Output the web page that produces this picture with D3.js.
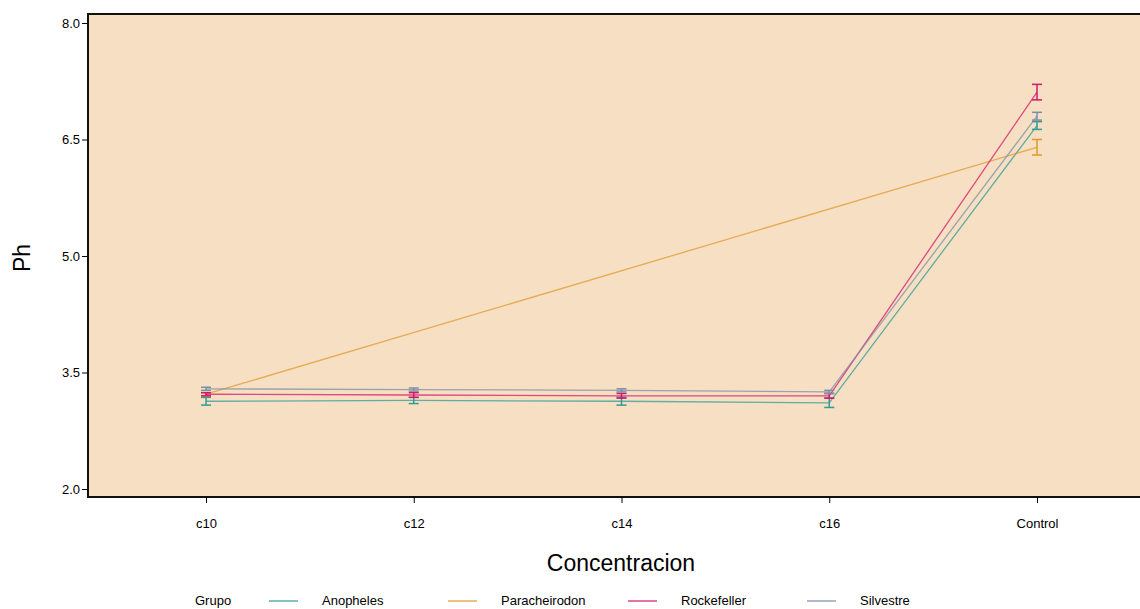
<!DOCTYPE html>
<html>
<head>
<meta charset="utf-8">
<script src="https://cdn.jsdelivr.net/npm/d3@7"></script>
<style>
  body { margin: 0; background: #fff; }
  text { font-family: "Liberation Sans", Arial, sans-serif; fill: #000; }
</style>
</head>
<body>
<div id="chart"></div>
<script>
// categories on the x axis
const concentraciones = ["c10", "c12", "c14", "c16", "Control"];
const yTicks = [2.0, 3.5, 5.0, 6.5, 8.0];

// group means (null = no data) and error half-widths
const anopheles = [3.13, 3.14, 3.13, 3.11, 6.68];
const anophelesErr = [0.05, 0.04, 0.05, 0.06, 0.05];
const paracheirodon = [3.22, null, null, null, 6.40];
const paracheirodonErr = [0.02, null, null, null, 0.1];
const rockefeller = [3.22, 3.21, 3.2, 3.2, 7.11];
const rockefellerErr = [0.02, 0.03, 0.03, 0.03, 0.1];
const silvestre = [3.29, 3.28, 3.27, 3.25, 6.8];
const silvestreErr = [0.02, 0.02, 0.02, 0.02, 0.05];

const grupos = [
  { name: "Anopheles", values: anopheles, err: anophelesErr, color: "#2f9c95" },
  { name: "Paracheirodon", values: paracheirodon, err: paracheirodonErr, color: "#e09a2c" },
  { name: "Rockefeller", values: rockefeller, err: rockefellerErr, color: "#d6176b" },
  { name: "Silvestre", values: silvestre, err: silvestreErr, color: "#7b8fa6" }
];

const width = 1140;
const height = 609;
const plot = { left: 88, top: 14, right: 1155, bottom: 497 };

const svg = d3.select("#chart")
  .append("svg")
  .attr("width", width)
  .attr("height", height);

// scales
const xScale = d3.scalePoint()
  .domain(concentraciones)
  .range([206, 1037]);

const yScale = d3.scaleLinear()
  .domain([2, 8])
  .range([489, 23]);

// panel background
svg.append("rect")
  .attr("x", plot.left)
  .attr("y", plot.top)
  .attr("width", plot.right - plot.left)
  .attr("height", plot.bottom - plot.top)
  .attr("fill", "#f6dfc2")
  .attr("stroke", "#111")
  .attr("stroke-width", 2);

// lines (skip missing values, connect remaining points)
const line = d3.line()
  .x((d) => xScale(d.cat))
  .y((d) => yScale(d.v));

grupos.forEach((g) => {
  const pts = concentraciones
    .map((c, i) => ({ cat: c, v: g.values[i], e: g.err[i] }))
    .filter((d) => d.v !== null);

  svg.append("path")
    .datum(pts)
    .attr("d", line)
    .attr("fill", "none")
    .attr("stroke", g.color)
    .attr("stroke-opacity", 0.75)
    .attr("stroke-width", 1.3);

  // error bars
  const eb = svg.append("g")
    .attr("stroke", g.color)
    .attr("stroke-width", 1.5);

  pts.forEach((d) => {
    const x = xScale(d.cat);
    const y1 = yScale(d.v - d.e);
    const y2 = yScale(d.v + d.e);
    eb.append("line").attr("x1", x).attr("x2", x).attr("y1", y1).attr("y2", y2);
    eb.append("line").attr("x1", x - 5).attr("x2", x + 5).attr("y1", y1).attr("y2", y1);
    eb.append("line").attr("x1", x - 5).attr("x2", x + 5).attr("y1", y2).attr("y2", y2);
  });
});

// x axis
const xAxis = d3.axisBottom(xScale).tickSize(6).tickPadding(16);
const gx = svg.append("g")
  .attr("transform", `translate(0, ${plot.bottom})`)
  .call(xAxis);
gx.select(".domain").remove();
gx.selectAll("text").attr("font-size", 13).style("font-family", "Liberation Sans, Arial, sans-serif");

// y axis
const yAxis = d3.axisLeft(yScale)
  .tickValues(yTicks)
  .tickFormat(d3.format(".1f"))
  .tickSize(5)
  .tickPadding(2);
const gy = svg.append("g")
  .attr("transform", `translate(${plot.left - 1}, 0)`)
  .call(yAxis);
gy.select(".domain").remove();
gy.selectAll("text").attr("font-size", 13).style("font-family", "Liberation Sans, Arial, sans-serif");

// axis titles
svg.append("text")
  .attr("x", 621)
  .attr("y", 571)
  .attr("text-anchor", "middle")
  .attr("font-size", 23)
  .text("Concentracion");

svg.append("text")
  .attr("transform", "translate(30, 258) rotate(-90)")
  .attr("text-anchor", "middle")
  .attr("font-size", 23)
  .text("Ph");

// legend
const legY = 601;
svg.append("text")
  .attr("x", 195)
  .attr("y", legY + 4)
  .attr("font-size", 13)
  .text("Grupo");

const legX = [269, 448, 628, 807];
grupos.forEach((g, i) => {
  svg.append("line")
    .attr("x1", legX[i])
    .attr("x2", legX[i] + 29)
    .attr("y1", legY)
    .attr("y2", legY)
    .attr("stroke", g.color)
    .attr("stroke-opacity", 0.8)
    .attr("stroke-width", 1.5);
  svg.append("text")
    .attr("x", legX[i] + 53)
    .attr("y", legY + 4)
    .attr("font-size", 13)
    .text(g.name);
});
</script>
</body>
</html>
